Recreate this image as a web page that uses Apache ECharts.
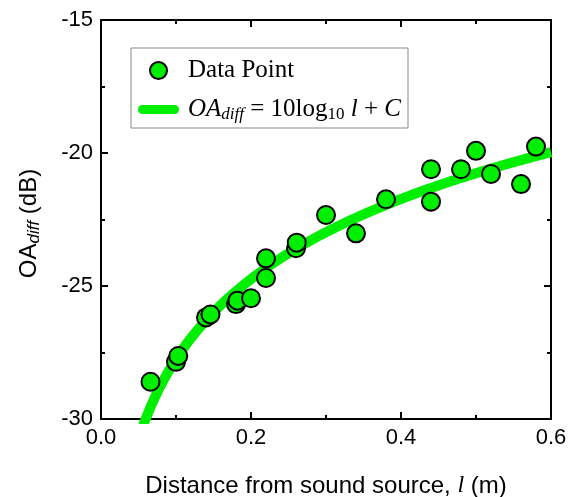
<!DOCTYPE html>
<html>
<head>
<meta charset="utf-8">
<script src="https://cdn.jsdelivr.net/npm/echarts@6/dist/echarts.min.js"></script>
<style>
  html, body { margin: 0; padding: 0; background: #fff; }
  #chart { width: 573px; height: 497px; }
</style>
</head>
<body>
<div id="chart"></div>
<script>
// Measured distance from the source (m) and the OA difference (dB)
const distance = [0.066, 0.100, 0.103, 0.140, 0.146, 0.180, 0.182, 0.200, 0.220, 0.220,
                  0.260, 0.261, 0.300, 0.340, 0.380, 0.440, 0.440, 0.480, 0.500, 0.520,
                  0.560, 0.580];
const oaDiff   = [-28.60, -27.85, -27.63, -26.18, -26.07, -25.68, -25.55, -25.46, -24.70, -23.96,
                  -23.58, -23.37, -22.33, -23.02, -21.74, -21.83, -20.61, -20.61, -19.92, -20.79,
                  -21.17, -19.76];

// Fitted model OA_diff = 10 log10(l) + C
const fitConstant = -17.75;
const fitRange = [0.05, 0.6];

const xTicks = { min: 0, max: 0.6, step: 0.2 };
const yTicks = { min: -30, max: -15, step: 5 };

const points = distance.map((l, i) => [l, oaDiff[i]]);
const fitCurve = [];
for (let k = 0; k <= 200; k++) {
  const l = fitRange[0] + (fitRange[1] - fitRange[0]) * k / 200;
  fitCurve.push([l, 10 * Math.log10(l) + fitConstant]);
}

const SANS = 'Liberation Sans, Arial, sans-serif';
const SERIF = 'Liberation Serif, Times New Roman, serif';
const GREEN = '#00ee00';

const frameAxis = {
  axisLine: { show: true, onZero: false, lineStyle: { color: '#000', width: 2 } },
  axisTick: { show: true, inside: true, length: 7, lineStyle: { color: '#000', width: 2 } },
  minorTick: { show: true, splitNumber: 2, length: 4, lineStyle: { color: '#000', width: 2 } },
  splitLine: { show: false },
  minorSplitLine: { show: false }
};

// thick rounded bar used as the legend key of the fitted curve
const fitLegendIcon = 'path://M4.5,0 L36.5,0 A4.5,4.5 0 0 1 36.5,9 L4.5,9 A4.5,4.5 0 0 1 4.5,0 Z';

const chart = echarts.init(document.getElementById('chart'), null, { renderer: 'canvas' });

chart.setOption({
  animation: false,
  backgroundColor: '#fff',
  grid: { left: 101, right: 22, top: 20, bottom: 78, containLabel: false, outerBoundsMode: 'none' },
  legend: {
    orient: 'vertical',
    left: 131,
    top: 48,
    padding: [10, 7, 5, 7],
    itemGap: 14,
    itemWidth: 41,
    itemHeight: 17,
    symbolKeepAspect: true,
    borderColor: '#888',
    borderWidth: 1,
    borderRadius: 0,
    backgroundColor: '#fff',
    data: [
      { name: 'Data Point', icon: 'circle' },
      { name: 'fit', icon: fitLegendIcon, itemStyle: { color: GREEN, borderWidth: 0 } }
    ],
    formatter: function (name) {
      if (name === 'fit') {
        return '{it|OA}{sub|diff}{n| = 10log}{sub2|10}{it| l}{n| + }{it|C}';
      }
      return '{n|Data Point}';
    },
    textStyle: {
      color: '#000',
      fontFamily: SERIF,
      fontSize: 25,
      padding: [0, 0, 0, 4],
      rich: {
        n: { fontFamily: SERIF, fontSize: 25, color: '#000' },
        it: { fontFamily: SERIF, fontSize: 25, fontStyle: 'italic', color: '#000' },
        sub: { fontFamily: SERIF, fontSize: 17, fontStyle: 'italic', color: '#000', verticalAlign: 'bottom', padding: [10, 0, 0, 0] },
        sub2: { fontFamily: SERIF, fontSize: 17, color: '#000', verticalAlign: 'bottom', padding: [10, 0, 0, 0] }
      }
    }
  },
  xAxis: [
    Object.assign({
      type: 'value',
      position: 'bottom',
      min: xTicks.min, max: xTicks.max, interval: xTicks.step,
      name: '{n|Distance from sound source, }{it|l}{n| (m)}',
      nameLocation: 'middle',
      nameGap: 55,
      nameTextStyle: {
        rich: {
          n: { fontFamily: SANS, fontSize: 24, color: '#000' },
          it: { fontFamily: SERIF, fontSize: 24, fontStyle: 'italic', color: '#000' }
        }
      },
      axisLabel: {
        color: '#000', fontFamily: SANS, fontSize: 22, margin: 8,
        formatter: v => v.toFixed(1)
      }
    }, frameAxis),
    Object.assign({
      type: 'value',
      position: 'top',
      min: xTicks.min, max: xTicks.max, interval: xTicks.step,
      axisLabel: { show: false }
    }, frameAxis)
  ],
  yAxis: [
    Object.assign({
      type: 'value',
      position: 'left',
      min: yTicks.min, max: yTicks.max, interval: yTicks.step,
      name: '{n|OA}{sub|diff}{n| (dB)}',
      nameLocation: 'middle',
      nameGap: 58,
      nameRotate: 90,
      nameTextStyle: {
        padding: [0, 8, 0, 0],
        rich: {
          n: { fontFamily: SANS, fontSize: 24, color: '#000' },
          sub: { fontFamily: SANS, fontSize: 17, fontStyle: 'italic', color: '#000', verticalAlign: 'bottom', padding: [10, 0, 0, 0] }
        }
      },
      axisLabel: { color: '#000', fontFamily: SANS, fontSize: 22, margin: 8 }
    }, frameAxis),
    Object.assign({
      type: 'value',
      position: 'right',
      min: yTicks.min, max: yTicks.max, interval: yTicks.step,
      axisLabel: { show: false }
    }, frameAxis)
  ],
  series: [
    {
      name: 'fit',
      type: 'line',
      data: fitCurve,
      symbol: 'none',
      smooth: false,
      clip: true,
      z: 2,
      color: GREEN,
      lineStyle: { color: GREEN, width: 10 }
    },
    {
      name: 'Data Point',
      type: 'scatter',
      data: points,
      symbol: 'circle',
      symbolSize: 18,
      z: 3,
      color: GREEN,
      itemStyle: { color: GREEN, borderColor: '#000', borderWidth: 2, opacity: 1 }
    }
  ]
});
</script>
</body>
</html>
